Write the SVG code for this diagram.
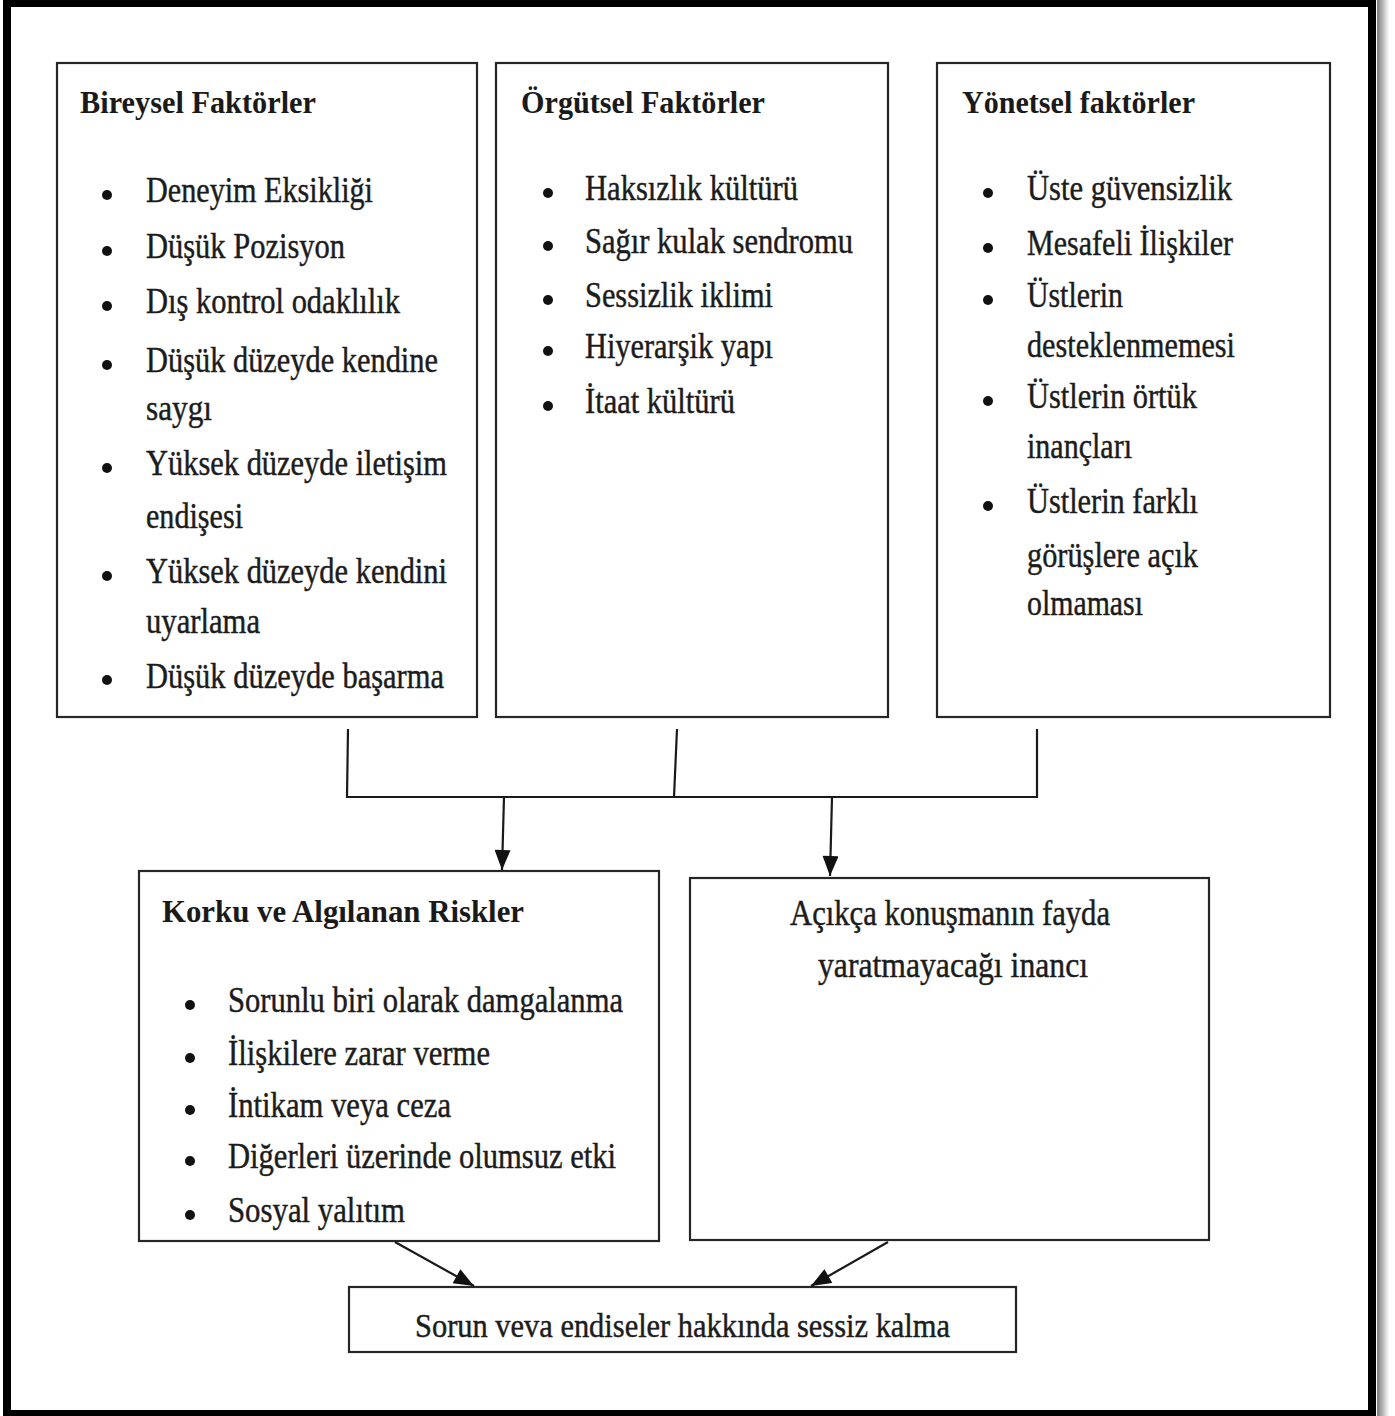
<svg xmlns="http://www.w3.org/2000/svg" width="1395" height="1416" viewBox="0 0 1395 1416">
  <defs>
    <linearGradient id="frameShade" x1="0" y1="0" x2="1" y2="0">
      <stop offset="0" stop-color="#7a7a7a"/>
      <stop offset="1" stop-color="#ffffff"/>
    </linearGradient>
    <marker id="arrow" viewBox="0 0 20 16" refX="20" refY="8" markerWidth="21" markerHeight="16" markerUnits="userSpaceOnUse" orient="auto">
      <path d="M0,0 L20,8 L0,16 Z" fill="#111"/>
    </marker>
  </defs>
  <style>
    .box { fill: #ffffff; stroke: #262626; stroke-width: 2.2; }
    .title { font-family: "Liberation Serif", "Times New Roman", serif; font-weight: bold; font-size: 31px; fill: #1a1a1a; }
    .item { font-family: "Liberation Serif", "Times New Roman", serif; font-size: 36px; fill: #1c1c1c; stroke: #1c1c1c; stroke-width: 0.45; }
    .plain { font-family: "Liberation Serif", "Times New Roman", serif; font-size: 34px; fill: #1c1c1c; stroke: #1c1c1c; stroke-width: 0.45; }
    .dot { fill: #111; }
    .wire { fill: none; stroke: #1a1a1a; stroke-width: 2.2; }
  </style>

  <!-- page background and heavy frame -->
  <rect x="0" y="0" width="1395" height="1416" fill="#ffffff"/>
  <rect x="1377" y="0" width="12" height="1416" fill="url(#frameShade)"/>
  <rect x="7" y="3" width="1365" height="1411" fill="none" stroke="#000" stroke-width="8"/>

  <!-- Bireysel Faktörler -->
  <g id="bireysel">
    <rect class="box" x="57" y="63" width="420" height="654"/>
    <text class="title" x="80" y="113" textLength="236" lengthAdjust="spacingAndGlyphs">Bireysel Faktörler</text>
    <circle class="dot" cx="107" cy="195" r="5"/>
    <text class="item" x="146" y="202" textLength="227" lengthAdjust="spacingAndGlyphs">Deneyim Eksikliği</text>
    <circle class="dot" cx="107" cy="251" r="5"/>
    <text class="item" x="146" y="258" textLength="199" lengthAdjust="spacingAndGlyphs">Düşük Pozisyon</text>
    <circle class="dot" cx="107" cy="306" r="5"/>
    <text class="item" x="146" y="313" textLength="254" lengthAdjust="spacingAndGlyphs">Dış kontrol odaklılık</text>
    <circle class="dot" cx="107" cy="365" r="5"/>
    <text class="item" x="146" y="372" textLength="292" lengthAdjust="spacingAndGlyphs">Düşük düzeyde kendine</text>
    <text class="item" x="146" y="420" textLength="66" lengthAdjust="spacingAndGlyphs">saygı</text>
    <circle class="dot" cx="107" cy="468" r="5"/>
    <text class="item" x="146" y="475" textLength="301" lengthAdjust="spacingAndGlyphs">Yüksek düzeyde iletişim</text>
    <text class="item" x="146" y="528" textLength="97" lengthAdjust="spacingAndGlyphs">endişesi</text>
    <circle class="dot" cx="107" cy="576" r="5"/>
    <text class="item" x="146" y="583" textLength="301" lengthAdjust="spacingAndGlyphs">Yüksek düzeyde kendini</text>
    <text class="item" x="146" y="633" textLength="114" lengthAdjust="spacingAndGlyphs">uyarlama</text>
    <circle class="dot" cx="107" cy="680" r="5"/>
    <text class="item" x="146" y="688" textLength="298" lengthAdjust="spacingAndGlyphs">Düşük düzeyde başarma</text>
  </g>

  <!-- Örgütsel Faktörler -->
  <g id="orgutsel">
    <rect class="box" x="496" y="63" width="392" height="654"/>
    <text class="title" x="521" y="113" textLength="244" lengthAdjust="spacingAndGlyphs">Örgütsel Faktörler</text>
    <circle class="dot" cx="548" cy="193" r="5"/>
    <text class="item" x="585" y="200" textLength="213" lengthAdjust="spacingAndGlyphs">Haksızlık kültürü</text>
    <circle class="dot" cx="548" cy="246" r="5"/>
    <text class="item" x="585" y="253" textLength="268" lengthAdjust="spacingAndGlyphs">Sağır kulak sendromu</text>
    <circle class="dot" cx="548" cy="300" r="5"/>
    <text class="item" x="585" y="307" textLength="188" lengthAdjust="spacingAndGlyphs">Sessizlik iklimi</text>
    <circle class="dot" cx="548" cy="351" r="5"/>
    <text class="item" x="585" y="358" textLength="188" lengthAdjust="spacingAndGlyphs">Hiyerarşik yapı</text>
    <circle class="dot" cx="548" cy="406" r="5"/>
    <text class="item" x="585" y="413" textLength="150" lengthAdjust="spacingAndGlyphs">İtaat kültürü</text>
  </g>

  <!-- Yönetsel faktörler -->
  <g id="yonetsel">
    <rect class="box" x="937" y="63" width="393" height="654"/>
    <text class="title" x="962" y="113" textLength="233" lengthAdjust="spacingAndGlyphs">Yönetsel faktörler</text>
    <circle class="dot" cx="988" cy="193" r="5"/>
    <text class="item" x="1027" y="200" textLength="205" lengthAdjust="spacingAndGlyphs">Üste güvensizlik</text>
    <circle class="dot" cx="988" cy="248" r="5"/>
    <text class="item" x="1027" y="255" textLength="206" lengthAdjust="spacingAndGlyphs">Mesafeli İlişkiler</text>
    <circle class="dot" cx="988" cy="300" r="5"/>
    <text class="item" x="1027" y="307" textLength="96" lengthAdjust="spacingAndGlyphs">Üstlerin</text>
    <text class="item" x="1027" y="357" textLength="208" lengthAdjust="spacingAndGlyphs">desteklenmemesi</text>
    <circle class="dot" cx="988" cy="401" r="5"/>
    <text class="item" x="1027" y="408" textLength="170" lengthAdjust="spacingAndGlyphs">Üstlerin örtük</text>
    <text class="item" x="1027" y="458" textLength="105" lengthAdjust="spacingAndGlyphs">inançları</text>
    <circle class="dot" cx="988" cy="506" r="5"/>
    <text class="item" x="1027" y="513" textLength="171" lengthAdjust="spacingAndGlyphs">Üstlerin farklı</text>
    <text class="item" x="1027" y="567" textLength="171" lengthAdjust="spacingAndGlyphs">görüşlere açık</text>
    <text class="item" x="1027" y="615" textLength="116" lengthAdjust="spacingAndGlyphs">olmaması</text>
  </g>

  <!-- Korku ve Algılanan Riskler -->
  <g id="korku">
    <rect class="box" x="139" y="871" width="520" height="370"/>
    <text class="title" x="162" y="922" textLength="362" lengthAdjust="spacingAndGlyphs">Korku ve Algılanan Riskler</text>
    <circle class="dot" cx="190" cy="1005" r="5"/>
    <text class="item" x="228" y="1012" textLength="395" lengthAdjust="spacingAndGlyphs">Sorunlu biri olarak damgalanma</text>
    <circle class="dot" cx="190" cy="1058" r="5"/>
    <text class="item" x="228" y="1065" textLength="262" lengthAdjust="spacingAndGlyphs">İlişkilere zarar verme</text>
    <circle class="dot" cx="190" cy="1110" r="5"/>
    <text class="item" x="228" y="1117" textLength="223" lengthAdjust="spacingAndGlyphs">İntikam veya ceza</text>
    <circle class="dot" cx="190" cy="1161" r="5"/>
    <text class="item" x="228" y="1168" textLength="388" lengthAdjust="spacingAndGlyphs">Diğerleri üzerinde olumsuz etki</text>
    <circle class="dot" cx="190" cy="1215" r="5"/>
    <text class="item" x="228" y="1222" textLength="177" lengthAdjust="spacingAndGlyphs">Sosyal yalıtım</text>
  </g>

  <!-- Açıkça konuşmanın fayda yaratmayacağı inancı -->
  <g id="inanc">
    <rect class="box" x="690" y="878" width="519" height="362"/>
    <text class="item" x="790" y="925" textLength="320" lengthAdjust="spacingAndGlyphs">Açıkça konuşmanın fayda</text>
    <text class="item" x="818" y="977" textLength="270" lengthAdjust="spacingAndGlyphs">yaratmayacağı inancı</text>
  </g>

  <!-- Sonuç -->
  <g id="sessiz">
    <rect class="box" x="349" y="1287" width="667" height="65"/>
    <text class="plain" x="415" y="1337" textLength="535" lengthAdjust="spacingAndGlyphs">Sorun veva endiseler hakkında sessiz kalma</text>
  </g>

  <!-- connectors -->
  <g id="connectors">
    <path class="wire" d="M348,729 L347,797 L1037,797 L1037,729"/>
    <path class="wire" d="M677,729 L674,797"/>
    <path class="wire" d="M504,797 L502,870" marker-end="url(#arrow)"/>
    <path class="wire" d="M832,797 L830,876" marker-end="url(#arrow)"/>
    <path class="wire" d="M395,1242 L474,1286" marker-end="url(#arrow)"/>
    <path class="wire" d="M888,1242 L811,1286" marker-end="url(#arrow)"/>
  </g>
</svg>
